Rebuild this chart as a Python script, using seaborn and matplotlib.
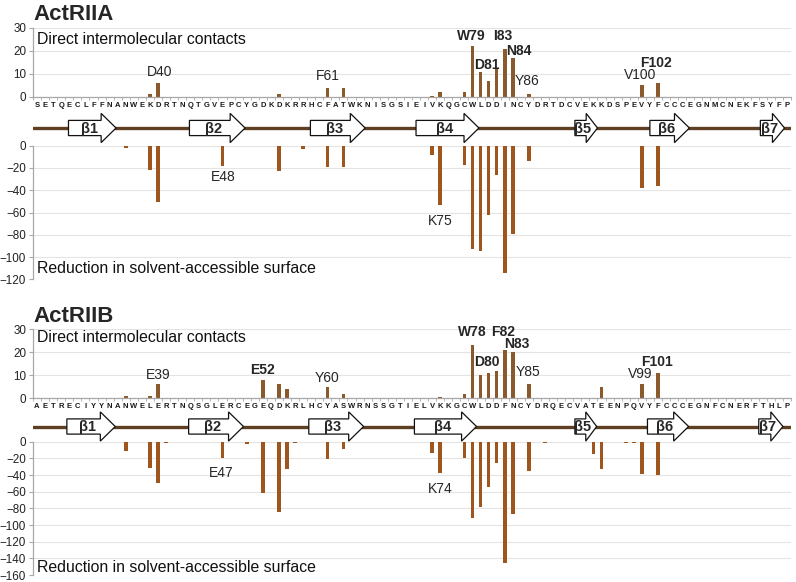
import numpy as np
import pandas as pd
import matplotlib
matplotlib.use("Agg")
import matplotlib.pyplot as plt
from matplotlib.patches import Polygon
import seaborn as sns

# sequences (ActRIIA numbering starts at 25, ActRIIB at 24)
seq_a = "SETQECLFFNANWEKDRTNQTGVEPCYGDKDKRRHCFATWKNISGSIEIVKQGCWLDDINCYDRTDCVEKKDSPEVYFCCCEGNMCNEKFSYFP"
seq_b = "AETRECIYYNANWELERTNQSGLERCEGEQDKRLHCYASWRNSSGTIELVKKGCWLDDFNCYDRQECVATEENPQVYFCCCEGNFCNERFTHLP"
start_a = 25
start_b = 24

# direct intermolecular contacts
contact_res_a = [39, 40, 55, 61, 63, 74, 75, 78, 79, 80, 81, 82, 83, 84, 86, 100, 102]
contact_val_a = [1, 6, 1, 4, 4, 0.5, 2, 2, 22, 11, 7, 12, 21, 17, 1, 5, 6]
contact_res_b = [35, 38, 39, 52, 54, 55, 60, 62, 74, 77, 78, 79, 80, 81, 82, 83, 85, 94, 99, 101]
contact_val_b = [1, 1, 6, 8, 6, 4, 5, 2, 0.5, 2, 23, 10, 11, 12, 21, 20, 6, 5, 6, 11]

# reduction in solvent-accessible surface
sasa_res_a = [36, 39, 40, 48, 55, 58, 61, 63, 74, 75, 78, 79, 80, 81, 82, 83, 84, 86, 100, 102]
sasa_val_a = [-2, -22, -51, -18, -23, -3, -19, -19, -8, -53, -17, -93, -95, -62, -26, -114, -79, -14, -38, -36]
sasa_res_b = [35, 38, 39, 40, 47, 50, 52, 54, 55, 56, 60, 62, 73, 74, 77, 78, 79, 80, 81, 82, 83, 85,
              87, 93, 94, 97, 98, 99, 101]
sasa_val_b = [-11, -31, -49, -2, -20, -3, -61, -84, -33, -2, -21, -9, -13, -37, -19, -91, -78, -54, -26, -145,
              -87, -35, -1, -15, -33, -1, -1, -39, -40]

# beta strands (sequence position, start -> tip)
strand_names = ["β1", "β2", "β3", "β4", "β5", "β6", "β7"]
strands_a = [(3.9, 9.8), (18.9, 25.8), (33.9, 40.7), (47.0, 54.8), (66.7, 69.5), (76.0, 80.9), (89.7, 92.7)]
strands_b = [(3.7, 9.7), (18.8, 25.6), (33.7, 40.5), (46.8, 54.5), (66.7, 69.4), (75.7, 80.8), (89.5, 92.5)]

# labelled residues: (residue, label height, bold, x shift)
labels_top_a = [(40, 10.9, False, 0.2), (61, 9.1, False, 0), (79, 26.4, True, -0.2), (83, 26.4, True, -0.2),
                (84, 20.0, True, 0.7), (81, 13.8, True, -0.2), (86, 6.8, False, -0.2),
                (100, 9.4, False, -0.2), (102, 14.8, True, -0.3)]
labels_bot_a = [(48, -28, False, 0.1), (75, -68, False, 0)]
labels_top_b = [(39, 10.1, False, 0), (52, 12.3, True, 0), (60, 8.9, False, 0), (78, 28.6, True, 0),
                (82, 28.6, True, -0.2), (83, 23.5, True, 0.55), (80, 15.6, True, -0.2),
                (85, 11.5, False, -0.1), (99, 10.4, False, -0.2), (101, 15.8, True, -0.1)]
labels_bot_b = [(47, -38, False, -0.2), (74, -57, False, 0)]

sns.set_theme(style="white")
plt.rcParams['font.family'] = ['Liberation Sans', 'DejaVu Sans']

W, H = 796, 582
TOP_COLOR = "#8a5a2c"
BOT_COLOR = "#9e561e"
GRID = "#e4e4e4"
SPINE = "#a8a8a8"


def px_axes(fig, top, bottom, left=33, right=791):
    return fig.add_axes([left / W, 1 - bottom / H, (right - left) / W, (bottom - top) / H])


def full_values(seq, start, res, vals):
    out = np.zeros(len(seq))
    for r, v in zip(res, vals):
        out[r - start] = v
    return out


def style_left(ax):
    ax.grid(axis='y', color=GRID, linewidth=0.8)
    ax.set_axisbelow(True)
    for s in ['top', 'right', 'bottom']:
        ax.spines[s].set_visible(False)
    ax.spines['left'].set_color(SPINE)
    ax.spines['left'].set_linewidth(0.9)
    ax.tick_params(axis='y', which='major', length=3, width=0.8, color=SPINE,
                   labelsize=8.4, labelcolor='#222222', pad=2, left=True)
    ax.set_xlabel('')
    ax.set_ylabel('')


def draw_panel(fig, name, seq, start, cres, cval, sres, sval, strands, lab_top, lab_bot, rows):
    title_y, top_rng, ss_rng, bot_rng, bot_min, txt_top, txt_bot = rows
    n = len(seq)
    pos = np.arange(n)

    fig.text(33 / W, 1 - title_y / H, name, fontsize=16, fontweight='bold', ha='left', va='center')

    # contacts
    ax1 = px_axes(fig, *top_rng)
    sns.barplot(x=pos, y=full_values(seq, start, cres, cval), ax=ax1, color=TOP_COLOR,
                width=0.45, saturation=1, linewidth=0, errorbar=None)
    style_left(ax1)
    ax1.spines['bottom'].set_visible(True)
    ax1.spines['bottom'].set_color(SPINE)
    ax1.spines['bottom'].set_linewidth(0.9)
    ax1.set_xlim(-0.5, n - 0.5)
    ax1.set_ylim(0, 30)
    ax1.set_yticks([0, 10, 20, 30])
    ax1.set_xticks(pos)
    ax1.set_xticklabels(list(seq), fontsize=5.5, fontweight='bold', color='#1a1a1a')
    ax1.set_xticks(np.arange(-0.5, n, 1), minor=True)
    ax1.tick_params(axis='x', which='major', length=0, pad=3.5)
    ax1.tick_params(axis='x', which='minor', length=2.5, width=0.6, color=SPINE, bottom=True)
    ax1.text(0.005, txt_top, "Direct intermolecular contacts", transform=ax1.transAxes,
             fontsize=11.4, ha='left', va='center', color='#111111')
    for r, y, b, dx in lab_top:
        ax1.text(r - start + dx, y, f"{seq[r - start]}{r}", fontsize=10,
                 fontweight='bold' if b else 'normal', ha='center', va='center', clip_on=False)

    # surface reduction
    ax2 = px_axes(fig, *bot_rng)
    sns.barplot(x=pos, y=full_values(seq, start, sres, sval), ax=ax2, color=BOT_COLOR,
                width=0.45, saturation=1, linewidth=0, errorbar=None)
    style_left(ax2)
    ax2.set_xlim(-0.5, n - 0.5)
    ax2.set_ylim(bot_min, 0)
    ax2.set_yticks(np.arange(bot_min, 1, 20))
    ax2.set_xticks([])
    ax2.text(0.005, txt_bot, "Reduction in solvent-accessible surface", transform=ax2.transAxes,
             fontsize=11.4, ha='left', va='center', color='#111111')
    for r, y, b, dx in lab_bot:
        ax2.text(r - start + dx, y, f"{seq[r - start]}{r}", fontsize=10,
                 fontweight='bold' if b else 'normal', ha='center', va='center')

    # secondary structure
    ax3 = px_axes(fig, *ss_rng)
    ax3.set_xlim(-0.5, n - 0.5)
    ax3.set_ylim(-17, 17)
    ax3.axis('off')
    ax3.patch.set_alpha(0)
    ax3.axhline(0, color='#5e3f22', linewidth=2.4, zorder=1)
    for (x0, x1), lab in zip(strands, strand_names):
        hl = min(1.85, 0.5 * (x1 - x0))
        bh, hh = 7.6, 14.6
        pts = [(x0, -bh), (x0, bh), (x1 - hl, bh), (x1 - hl, hh), (x1, 0),
               (x1 - hl, -hh), (x1 - hl, -bh)]
        ax3.add_patch(Polygon(pts, closed=True, facecolor='white', edgecolor='#111111',
                              linewidth=0.9, zorder=2))
        ax3.text((x0 + x1) / 2 - 0.4, -0.8, lab, fontsize=10.5, fontweight='bold',
                 ha='center', va='center', zorder=3)


fig = plt.figure(figsize=(W / 100, H / 100), dpi=100)

draw_panel(fig, "ActRIIA", seq_a, start_a, contact_res_a, contact_val_a, sasa_res_a, sasa_val_a,
           strands_a, labels_top_a, labels_bot_a,
           (14, (28, 96.7), (111, 145), (145.7, 279.3), -120, 0.835, 0.082))
draw_panel(fig, "ActRIIB", seq_b, start_b, contact_res_b, contact_val_b, sasa_res_b, sasa_val_b,
           strands_b, labels_top_b, labels_bot_b,
           (316.5, (329, 398.3), (409.5, 443.5), (441.7, 575), -160, 0.874, 0.058))

fig.savefig("out.png", dpi=100)
